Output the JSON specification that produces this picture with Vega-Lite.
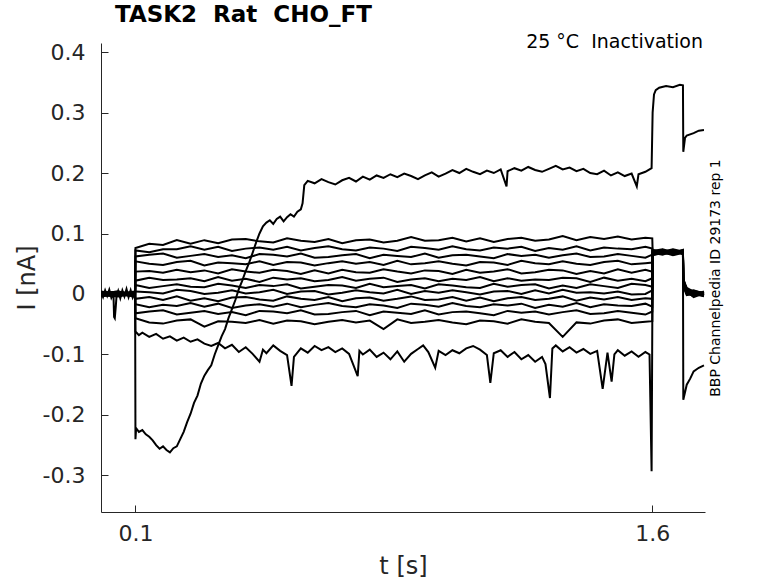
{
  "$schema": "https://vega.github.io/schema/vega-lite/v6.json",
  "width": 604,
  "height": 469,
  "autosize": "none",
  "padding": {"left": 101, "top": 43, "right": 73, "bottom": 71},
  "config": {
    "font": "DejaVu Sans",
    "view": {"stroke": null},
    "axis": {
      "grid": false,
      "domainColor": "#262626",
      "tickColor": "#262626",
      "labelColor": "#262626",
      "titleColor": "#262626",
      "labelFontSize": 22,
      "titleFontSize": 24,
      "titleFontWeight": "normal",
      "tickSize": -7
    }
  },
  "title": {
    "text": "TASK2 \u00a0Rat \u00a0CHO_FT",
    "anchor": "start",
    "frame": "group",
    "fontSize": 23,
    "fontWeight": "bold",
    "color": "black",
    "baseline": "alphabetic",
    "dx": 14,
    "offset": -12
  },
  "datasets": {
    "traces": [
      {"s":0,"t":0,"i":0.004},{"s":0,"t":0.006,"i":-0.005},{"s":0,"t":0.012,"i":0.006},{"s":0,"t":0.018,"i":-0.003},{"s":0,"t":0.024,"i":0.007},{"s":0,"t":0.03,"i":-0.006},{"s":0,"t":0.036,"i":0.002},{"s":0,"t":0.038,"i":-0.038},{"s":0,"t":0.04,"i":-0.04},{"s":0,"t":0.043,"i":-0.02},{"s":0,"t":0.045,"i":-0.004},{"s":0,"t":0.05,"i":0.005},{"s":0,"t":0.056,"i":-0.007},{"s":0,"t":0.062,"i":0.006},{"s":0,"t":0.068,"i":-0.004},{"s":0,"t":0.074,"i":0.008},{"s":0,"t":0.08,"i":-0.005},{"s":0,"t":0.086,"i":0.006},{"s":0,"t":0.092,"i":-0.006},{"s":0,"t":0.099,"i":0.003},

      {"s":1,"t":0,"i":0.003},{"s":1,"t":0.05,"i":-0.002},{"s":1,"t":0.099,"i":0.001},
      {"s":1,"t":0.1,"i":0.076},{"s":1,"t":0.14,"i":0.083},{"s":1,"t":0.18,"i":0.081},{"s":1,"t":0.22,"i":0.089},{"s":1,"t":0.26,"i":0.083},{"s":1,"t":0.3,"i":0.089},{"s":1,"t":0.34,"i":0.084},{"s":1,"t":0.38,"i":0.09},{"s":1,"t":0.42,"i":0.091},{"s":1,"t":0.46,"i":0.087},{"s":1,"t":0.5,"i":0.085},{"s":1,"t":0.54,"i":0.092},{"s":1,"t":0.58,"i":0.088},{"s":1,"t":0.62,"i":0.086},{"s":1,"t":0.66,"i":0.091},{"s":1,"t":0.7,"i":0.084},{"s":1,"t":0.74,"i":0.089},{"s":1,"t":0.78,"i":0.09},{"s":1,"t":0.82,"i":0.085},{"s":1,"t":0.86,"i":0.088},{"s":1,"t":0.9,"i":0.094},{"s":1,"t":0.94,"i":0.088},{"s":1,"t":0.98,"i":0.089},{"s":1,"t":1.02,"i":0.093},{"s":1,"t":1.06,"i":0.087},{"s":1,"t":1.1,"i":0.092},{"s":1,"t":1.14,"i":0.086},{"s":1,"t":1.18,"i":0.091},{"s":1,"t":1.22,"i":0.093},{"s":1,"t":1.26,"i":0.088},{"s":1,"t":1.3,"i":0.09},{"s":1,"t":1.34,"i":0.096},{"s":1,"t":1.38,"i":0.089},{"s":1,"t":1.42,"i":0.094},{"s":1,"t":1.46,"i":0.091},{"s":1,"t":1.5,"i":0.095},{"s":1,"t":1.54,"i":0.09},{"s":1,"t":1.58,"i":0.093},{"s":1,"t":1.6,"i":0.092},
      {"s":1,"t":1.601,"i":0.071},{"s":1,"t":1.63,"i":0.074},{"s":1,"t":1.66,"i":0.069},{"s":1,"t":1.689,"i":0.072},{"s":1,"t":1.69,"i":0.024},{"s":1,"t":1.7,"i":0.01},{"s":1,"t":1.72,"i":0.004},{"s":1,"t":1.75,"i":0.002},

      {"s":2,"t":0,"i":-0.003},{"s":2,"t":0.05,"i":0.002},{"s":2,"t":0.099,"i":-0.001},
      {"s":2,"t":0.1,"i":0.072},{"s":2,"t":0.14,"i":0.069},{"s":2,"t":0.18,"i":0.074},{"s":2,"t":0.22,"i":0.074},{"s":2,"t":0.26,"i":0.079},{"s":2,"t":0.3,"i":0.073},{"s":2,"t":0.34,"i":0.078},{"s":2,"t":0.38,"i":0.071},{"s":2,"t":0.42,"i":0.075},{"s":2,"t":0.46,"i":0.077},{"s":2,"t":0.5,"i":0.073},{"s":2,"t":0.54,"i":0.078},{"s":2,"t":0.58,"i":0.072},{"s":2,"t":0.62,"i":0.076},{"s":2,"t":0.66,"i":0.079},{"s":2,"t":0.7,"i":0.074},{"s":2,"t":0.74,"i":0.072},{"s":2,"t":0.78,"i":0.077},{"s":2,"t":0.82,"i":0.075},{"s":2,"t":0.86,"i":0.071},{"s":2,"t":0.9,"i":0.078},{"s":2,"t":0.94,"i":0.076},{"s":2,"t":0.98,"i":0.073},{"s":2,"t":1.02,"i":0.079},{"s":2,"t":1.06,"i":0.074},{"s":2,"t":1.1,"i":0.072},{"s":2,"t":1.14,"i":0.077},{"s":2,"t":1.18,"i":0.075},{"s":2,"t":1.22,"i":0.078},{"s":2,"t":1.26,"i":0.071},{"s":2,"t":1.3,"i":0.076},{"s":2,"t":1.34,"i":0.073},{"s":2,"t":1.38,"i":0.079},{"s":2,"t":1.42,"i":0.072},{"s":2,"t":1.46,"i":0.077},{"s":2,"t":1.5,"i":0.075},{"s":2,"t":1.54,"i":0.074},{"s":2,"t":1.58,"i":0.078},{"s":2,"t":1.6,"i":0.075},
      {"s":2,"t":1.601,"i":0.068},{"s":2,"t":1.63,"i":0.065},{"s":2,"t":1.66,"i":0.071},{"s":2,"t":1.689,"i":0.067},{"s":2,"t":1.69,"i":0.021},{"s":2,"t":1.7,"i":0.006},{"s":2,"t":1.72,"i":-0.003},{"s":2,"t":1.75,"i":0.001},

      {"s":3,"t":0,"i":0.001},{"s":3,"t":0.05,"i":0.004},{"s":3,"t":0.099,"i":-0.002},
      {"s":3,"t":0.1,"i":0.062},{"s":3,"t":0.14,"i":0.065},{"s":3,"t":0.18,"i":0.067},{"s":3,"t":0.22,"i":0.06},{"s":3,"t":0.26,"i":0.063},{"s":3,"t":0.3,"i":0.066},{"s":3,"t":0.34,"i":0.061},{"s":3,"t":0.38,"i":0.064},{"s":3,"t":0.42,"i":0.059},{"s":3,"t":0.46,"i":0.066},{"s":3,"t":0.5,"i":0.065},{"s":3,"t":0.54,"i":0.062},{"s":3,"t":0.58,"i":0.067},{"s":3,"t":0.62,"i":0.06},{"s":3,"t":0.66,"i":0.061},{"s":3,"t":0.7,"i":0.064},{"s":3,"t":0.74,"i":0.066},{"s":3,"t":0.78,"i":0.059},{"s":3,"t":0.82,"i":0.065},{"s":3,"t":0.86,"i":0.063},{"s":3,"t":0.9,"i":0.061},{"s":3,"t":0.94,"i":0.067},{"s":3,"t":0.98,"i":0.06},{"s":3,"t":1.02,"i":0.064},{"s":3,"t":1.06,"i":0.065},{"s":3,"t":1.1,"i":0.062},{"s":3,"t":1.14,"i":0.059},{"s":3,"t":1.18,"i":0.066},{"s":3,"t":1.22,"i":0.063},{"s":3,"t":1.26,"i":0.065},{"s":3,"t":1.3,"i":0.06},{"s":3,"t":1.34,"i":0.064},{"s":3,"t":1.38,"i":0.067},{"s":3,"t":1.42,"i":0.061},{"s":3,"t":1.46,"i":0.062},{"s":3,"t":1.5,"i":0.066},{"s":3,"t":1.54,"i":0.063},{"s":3,"t":1.58,"i":0.06},{"s":3,"t":1.6,"i":0.065},
      {"s":3,"t":1.601,"i":0.073},{"s":3,"t":1.63,"i":0.07},{"s":3,"t":1.66,"i":0.074},{"s":3,"t":1.689,"i":0.07},{"s":3,"t":1.69,"i":0.018},{"s":3,"t":1.7,"i":0.008},{"s":3,"t":1.72,"i":0.002},{"s":3,"t":1.75,"i":-0.002},

      {"s":4,"t":0,"i":-0.002},{"s":4,"t":0.05,"i":-0.004},{"s":4,"t":0.099,"i":0.002},
      {"s":4,"t":0.1,"i":0.054},{"s":4,"t":0.14,"i":0.05},{"s":4,"t":0.18,"i":0.048},{"s":4,"t":0.22,"i":0.053},{"s":4,"t":0.26,"i":0.055},{"s":4,"t":0.3,"i":0.047},{"s":4,"t":0.34,"i":0.052},{"s":4,"t":0.38,"i":0.051},{"s":4,"t":0.42,"i":0.049},{"s":4,"t":0.46,"i":0.054},{"s":4,"t":0.5,"i":0.048},{"s":4,"t":0.54,"i":0.053},{"s":4,"t":0.58,"i":0.052},{"s":4,"t":0.62,"i":0.047},{"s":4,"t":0.66,"i":0.051},{"s":4,"t":0.7,"i":0.054},{"s":4,"t":0.74,"i":0.05},{"s":4,"t":0.78,"i":0.053},{"s":4,"t":0.82,"i":0.048},{"s":4,"t":0.86,"i":0.055},{"s":4,"t":0.9,"i":0.049},{"s":4,"t":0.94,"i":0.051},{"s":4,"t":0.98,"i":0.054},{"s":4,"t":1.02,"i":0.05},{"s":4,"t":1.06,"i":0.047},{"s":4,"t":1.1,"i":0.053},{"s":4,"t":1.14,"i":0.052},{"s":4,"t":1.18,"i":0.048},{"s":4,"t":1.22,"i":0.055},{"s":4,"t":1.26,"i":0.051},{"s":4,"t":1.3,"i":0.049},{"s":4,"t":1.34,"i":0.054},{"s":4,"t":1.38,"i":0.05},{"s":4,"t":1.42,"i":0.048},{"s":4,"t":1.46,"i":0.053},{"s":4,"t":1.5,"i":0.055},{"s":4,"t":1.54,"i":0.049},{"s":4,"t":1.58,"i":0.051},{"s":4,"t":1.6,"i":0.052},
      {"s":4,"t":1.601,"i":0.066},{"s":4,"t":1.63,"i":0.069},{"s":4,"t":1.66,"i":0.064},{"s":4,"t":1.689,"i":0.068},{"s":4,"t":1.69,"i":0.026},{"s":4,"t":1.7,"i":0.004},{"s":4,"t":1.72,"i":0.006},{"s":4,"t":1.75,"i":0},

      {"s":5,"t":0,"i":0.004},{"s":5,"t":0.05,"i":0},{"s":5,"t":0.099,"i":0.003},
      {"s":5,"t":0.1,"i":0.037},{"s":5,"t":0.14,"i":0.038},{"s":5,"t":0.18,"i":0.035},{"s":5,"t":0.22,"i":0.04},{"s":5,"t":0.26,"i":0.036},{"s":5,"t":0.3,"i":0.039},{"s":5,"t":0.34,"i":0.034},{"s":5,"t":0.38,"i":0.041},{"s":5,"t":0.42,"i":0.037},{"s":5,"t":0.46,"i":0.035},{"s":5,"t":0.5,"i":0.04},{"s":5,"t":0.54,"i":0.038},{"s":5,"t":0.58,"i":0.033},{"s":5,"t":0.62,"i":0.039},{"s":5,"t":0.66,"i":0.034},{"s":5,"t":0.7,"i":0.04},{"s":5,"t":0.74,"i":0.036},{"s":5,"t":0.78,"i":0.035},{"s":5,"t":0.82,"i":0.041},{"s":5,"t":0.86,"i":0.037},{"s":5,"t":0.9,"i":0.034},{"s":5,"t":0.94,"i":0.039},{"s":5,"t":0.98,"i":0.038},{"s":5,"t":1.02,"i":0.033},{"s":5,"t":1.06,"i":0.04},{"s":5,"t":1.1,"i":0.035},{"s":5,"t":1.14,"i":0.037},{"s":5,"t":1.18,"i":0.041},{"s":5,"t":1.22,"i":0.034},{"s":5,"t":1.26,"i":0.036},{"s":5,"t":1.3,"i":0.04},{"s":5,"t":1.34,"i":0.039},{"s":5,"t":1.38,"i":0.033},{"s":5,"t":1.42,"i":0.038},{"s":5,"t":1.46,"i":0.034},{"s":5,"t":1.5,"i":0.041},{"s":5,"t":1.54,"i":0.035},{"s":5,"t":1.58,"i":0.04},{"s":5,"t":1.6,"i":0.037},
      {"s":5,"t":1.601,"i":0.07},{"s":5,"t":1.63,"i":0.067},{"s":5,"t":1.66,"i":0.072},{"s":5,"t":1.689,"i":0.069},{"s":5,"t":1.69,"i":0.015},{"s":5,"t":1.7,"i":0.002},{"s":5,"t":1.72,"i":-0.004},{"s":5,"t":1.75,"i":0.003},

      {"s":6,"t":0,"i":-0.001},{"s":6,"t":0.05,"i":0.003},{"s":6,"t":0.099,"i":-0.003},
      {"s":6,"t":0.1,"i":0.022},{"s":6,"t":0.14,"i":0.027},{"s":6,"t":0.18,"i":0.023},{"s":6,"t":0.22,"i":0.024},{"s":6,"t":0.26,"i":0.026},{"s":6,"t":0.3,"i":0.021},{"s":6,"t":0.34,"i":0.028},{"s":6,"t":0.38,"i":0.022},{"s":6,"t":0.42,"i":0.025},{"s":6,"t":0.46,"i":0.02},{"s":6,"t":0.5,"i":0.027},{"s":6,"t":0.54,"i":0.024},{"s":6,"t":0.58,"i":0.026},{"s":6,"t":0.62,"i":0.021},{"s":6,"t":0.66,"i":0.023},{"s":6,"t":0.7,"i":0.028},{"s":6,"t":0.74,"i":0.022},{"s":6,"t":0.78,"i":0.025},{"s":6,"t":0.82,"i":0.027},{"s":6,"t":0.86,"i":0.02},{"s":6,"t":0.9,"i":0.024},{"s":6,"t":0.94,"i":0.026},{"s":6,"t":0.98,"i":0.021},{"s":6,"t":1.02,"i":0.025},{"s":6,"t":1.06,"i":0.023},{"s":6,"t":1.1,"i":0.028},{"s":6,"t":1.14,"i":0.021},{"s":6,"t":1.18,"i":0.026},{"s":6,"t":1.22,"i":0.022},{"s":6,"t":1.26,"i":0.024},{"s":6,"t":1.3,"i":0.023},{"s":6,"t":1.34,"i":0.027},{"s":6,"t":1.38,"i":0.026},{"s":6,"t":1.42,"i":0.02},{"s":6,"t":1.46,"i":0.027},{"s":6,"t":1.5,"i":0.022},{"s":6,"t":1.54,"i":0.025},{"s":6,"t":1.58,"i":0.021},{"s":6,"t":1.6,"i":0.026},
      {"s":6,"t":1.601,"i":0.064},{"s":6,"t":1.63,"i":0.068},{"s":6,"t":1.66,"i":0.066},{"s":6,"t":1.689,"i":0.07},{"s":6,"t":1.69,"i":0.022},{"s":6,"t":1.7,"i":0.009},{"s":6,"t":1.72,"i":0.001},{"s":6,"t":1.75,"i":-0.003},

      {"s":7,"t":0,"i":0.002},{"s":7,"t":0.05,"i":-0.003},{"s":7,"t":0.099,"i":0},
      {"s":7,"t":0.1,"i":0.015},{"s":7,"t":0.14,"i":0.01},{"s":7,"t":0.18,"i":0.013},{"s":7,"t":0.22,"i":0.016},{"s":7,"t":0.26,"i":0.012},{"s":7,"t":0.3,"i":0.011},{"s":7,"t":0.34,"i":0.017},{"s":7,"t":0.38,"i":0.014},{"s":7,"t":0.42,"i":0.01},{"s":7,"t":0.46,"i":0.015},{"s":7,"t":0.5,"i":0.013},{"s":7,"t":0.54,"i":0.016},{"s":7,"t":0.58,"i":0.009},{"s":7,"t":0.62,"i":0.012},{"s":7,"t":0.66,"i":0.015},{"s":7,"t":0.7,"i":0.014},{"s":7,"t":0.74,"i":0.01},{"s":7,"t":0.78,"i":0.017},{"s":7,"t":0.82,"i":0.011},{"s":7,"t":0.86,"i":0.013},{"s":7,"t":0.9,"i":0.015},{"s":7,"t":0.94,"i":0.009},{"s":7,"t":0.98,"i":0.016},{"s":7,"t":1.02,"i":0.014},{"s":7,"t":1.06,"i":0.011},{"s":7,"t":1.1,"i":0.01},{"s":7,"t":1.14,"i":0.017},{"s":7,"t":1.18,"i":0.012},{"s":7,"t":1.22,"i":0.015},{"s":7,"t":1.26,"i":0.016},{"s":7,"t":1.3,"i":0.009},{"s":7,"t":1.34,"i":0.014},{"s":7,"t":1.38,"i":0.01},{"s":7,"t":1.42,"i":0.016},{"s":7,"t":1.46,"i":0.013},{"s":7,"t":1.5,"i":0.01},{"s":7,"t":1.54,"i":0.017},{"s":7,"t":1.58,"i":0.015},{"s":7,"t":1.6,"i":0.012},
      {"s":7,"t":1.601,"i":0.072},{"s":7,"t":1.63,"i":0.069},{"s":7,"t":1.66,"i":0.073},{"s":7,"t":1.689,"i":0.066},{"s":7,"t":1.69,"i":0.019},{"s":7,"t":1.7,"i":0.003},{"s":7,"t":1.72,"i":0.005},{"s":7,"t":1.75,"i":0.002},

      {"s":8,"t":0,"i":-0.004},{"s":8,"t":0.05,"i":0.001},{"s":8,"t":0.099,"i":0.004},
      {"s":8,"t":0.1,"i":0.004},{"s":8,"t":0.14,"i":0.003},{"s":8,"t":0.18,"i":0.001},{"s":8,"t":0.22,"i":0.007},{"s":8,"t":0.26,"i":0.005},{"s":8,"t":0.3,"i":0},{"s":8,"t":0.34,"i":0.002},{"s":8,"t":0.38,"i":0.006},{"s":8,"t":0.42,"i":0.001},{"s":8,"t":0.46,"i":0.003},{"s":8,"t":0.5,"i":0.007},{"s":8,"t":0.54,"i":0},{"s":8,"t":0.58,"i":0.004},{"s":8,"t":0.62,"i":0.005},{"s":8,"t":0.66,"i":-0.001},{"s":8,"t":0.7,"i":0.002},{"s":8,"t":0.74,"i":0.006},{"s":8,"t":0.78,"i":0.003},{"s":8,"t":0.82,"i":0.001},{"s":8,"t":0.86,"i":0.007},{"s":8,"t":0.9,"i":0},{"s":8,"t":0.94,"i":0.005},{"s":8,"t":0.98,"i":0.002},{"s":8,"t":1.02,"i":0.006},{"s":8,"t":1.06,"i":0.003},{"s":8,"t":1.1,"i":-0.001},{"s":8,"t":1.14,"i":0.004},{"s":8,"t":1.18,"i":0.005},{"s":8,"t":1.22,"i":0},{"s":8,"t":1.26,"i":0.006},{"s":8,"t":1.3,"i":0.001},{"s":8,"t":1.34,"i":0.007},{"s":8,"t":1.38,"i":0.002},{"s":8,"t":1.42,"i":0.003},{"s":8,"t":1.46,"i":0.001},{"s":8,"t":1.5,"i":0.004},{"s":8,"t":1.54,"i":-0.001},{"s":8,"t":1.58,"i":0},{"s":8,"t":1.6,"i":0.006},
      {"s":8,"t":1.601,"i":0.067},{"s":8,"t":1.63,"i":0.071},{"s":8,"t":1.66,"i":0.068},{"s":8,"t":1.689,"i":0.073},{"s":8,"t":1.69,"i":0.012},{"s":8,"t":1.7,"i":-0.002},{"s":8,"t":1.72,"i":0},{"s":8,"t":1.75,"i":-0.004},

      {"s":9,"t":0,"i":0},{"s":9,"t":0.05,"i":-0.001},{"s":9,"t":0.099,"i":-0.004},
      {"s":9,"t":0.1,"i":-0.008},{"s":9,"t":0.14,"i":-0.005},{"s":9,"t":0.18,"i":-0.01},{"s":9,"t":0.22,"i":-0.004},{"s":9,"t":0.26,"i":-0.011},{"s":9,"t":0.3,"i":-0.007},{"s":9,"t":0.34,"i":-0.012},{"s":9,"t":0.38,"i":-0.006},{"s":9,"t":0.42,"i":-0.005},{"s":9,"t":0.46,"i":-0.009},{"s":9,"t":0.5,"i":-0.011},{"s":9,"t":0.54,"i":-0.004},{"s":9,"t":0.58,"i":-0.008},{"s":9,"t":0.62,"i":-0.01},{"s":9,"t":0.66,"i":-0.005},{"s":9,"t":0.7,"i":-0.012},{"s":9,"t":0.74,"i":-0.007},{"s":9,"t":0.78,"i":-0.006},{"s":9,"t":0.82,"i":-0.011},{"s":9,"t":0.86,"i":-0.008},{"s":9,"t":0.9,"i":-0.004},{"s":9,"t":0.94,"i":-0.01},{"s":9,"t":0.98,"i":-0.009},{"s":9,"t":1.02,"i":-0.005},{"s":9,"t":1.06,"i":-0.011},{"s":9,"t":1.1,"i":-0.006},{"s":9,"t":1.14,"i":-0.012},{"s":9,"t":1.18,"i":-0.007},{"s":9,"t":1.22,"i":-0.005},{"s":9,"t":1.26,"i":-0.01},{"s":9,"t":1.3,"i":-0.008},{"s":9,"t":1.34,"i":-0.004},{"s":9,"t":1.38,"i":-0.011},{"s":9,"t":1.42,"i":-0.006},{"s":9,"t":1.46,"i":-0.009},{"s":9,"t":1.5,"i":-0.005},{"s":9,"t":1.54,"i":-0.01},{"s":9,"t":1.58,"i":-0.007},{"s":9,"t":1.6,"i":-0.008},
      {"s":9,"t":1.601,"i":0.069},{"s":9,"t":1.63,"i":0.073},{"s":9,"t":1.66,"i":0.067},{"s":9,"t":1.689,"i":0.071},{"s":9,"t":1.69,"i":0.02},{"s":9,"t":1.7,"i":0.007},{"s":9,"t":1.72,"i":-0.002},{"s":9,"t":1.75,"i":0.004},

      {"s":10,"t":0,"i":0.003},{"s":10,"t":0.05,"i":0.002},{"s":10,"t":0.099,"i":0.001},
      {"s":10,"t":0.1,"i":-0.017},{"s":10,"t":0.14,"i":-0.022},{"s":10,"t":0.18,"i":-0.018},{"s":10,"t":0.22,"i":-0.02},{"s":10,"t":0.26,"i":-0.015},{"s":10,"t":0.3,"i":-0.021},{"s":10,"t":0.34,"i":-0.016},{"s":10,"t":0.38,"i":-0.023},{"s":10,"t":0.42,"i":-0.019},{"s":10,"t":0.46,"i":-0.017},{"s":10,"t":0.5,"i":-0.021},{"s":10,"t":0.54,"i":-0.016},{"s":10,"t":0.58,"i":-0.022},{"s":10,"t":0.62,"i":-0.018},{"s":10,"t":0.66,"i":-0.015},{"s":10,"t":0.7,"i":-0.02},{"s":10,"t":0.74,"i":-0.022},{"s":10,"t":0.78,"i":-0.017},{"s":10,"t":0.82,"i":-0.019},{"s":10,"t":0.86,"i":-0.023},{"s":10,"t":0.9,"i":-0.016},{"s":10,"t":0.94,"i":-0.018},{"s":10,"t":0.98,"i":-0.021},{"s":10,"t":1.02,"i":-0.015},{"s":10,"t":1.06,"i":-0.02},{"s":10,"t":1.1,"i":-0.022},{"s":10,"t":1.14,"i":-0.017},{"s":10,"t":1.18,"i":-0.019},{"s":10,"t":1.22,"i":-0.016},{"s":10,"t":1.26,"i":-0.023},{"s":10,"t":1.3,"i":-0.018},{"s":10,"t":1.34,"i":-0.021},{"s":10,"t":1.38,"i":-0.015},{"s":10,"t":1.42,"i":-0.022},{"s":10,"t":1.46,"i":-0.017},{"s":10,"t":1.5,"i":-0.019},{"s":10,"t":1.54,"i":-0.02},{"s":10,"t":1.58,"i":-0.016},{"s":10,"t":1.6,"i":-0.021},
      {"s":10,"t":1.601,"i":0.065},{"s":10,"t":1.63,"i":0.068},{"s":10,"t":1.66,"i":0.07},{"s":10,"t":1.689,"i":0.066},{"s":10,"t":1.69,"i":0.016},{"s":10,"t":1.7,"i":0},{"s":10,"t":1.72,"i":0.003},{"s":10,"t":1.75,"i":-0.001},

      {"s":11,"t":0,"i":-0.002},{"s":11,"t":0.05,"i":-0.003},{"s":11,"t":0.099,"i":0.002},
      {"s":11,"t":0.1,"i":-0.032},{"s":11,"t":0.14,"i":-0.029},{"s":11,"t":0.18,"i":-0.027},{"s":11,"t":0.22,"i":-0.034},{"s":11,"t":0.26,"i":-0.031},{"s":11,"t":0.3,"i":-0.028},{"s":11,"t":0.34,"i":-0.033},{"s":11,"t":0.38,"i":-0.03},{"s":11,"t":0.42,"i":-0.035},{"s":11,"t":0.46,"i":-0.028},{"s":11,"t":0.5,"i":-0.029},{"s":11,"t":0.54,"i":-0.032},{"s":11,"t":0.58,"i":-0.027},{"s":11,"t":0.62,"i":-0.034},{"s":11,"t":0.66,"i":-0.033},{"s":11,"t":0.7,"i":-0.03},{"s":11,"t":0.74,"i":-0.028},{"s":11,"t":0.78,"i":-0.035},{"s":11,"t":0.82,"i":-0.029},{"s":11,"t":0.86,"i":-0.031},{"s":11,"t":0.9,"i":-0.033},{"s":11,"t":0.94,"i":-0.027},{"s":11,"t":0.98,"i":-0.034},{"s":11,"t":1.02,"i":-0.03},{"s":11,"t":1.06,"i":-0.029},{"s":11,"t":1.1,"i":-0.032},{"s":11,"t":1.14,"i":-0.035},{"s":11,"t":1.18,"i":-0.028},{"s":11,"t":1.22,"i":-0.031},{"s":11,"t":1.26,"i":-0.029},{"s":11,"t":1.3,"i":-0.034},{"s":11,"t":1.34,"i":-0.03},{"s":11,"t":1.38,"i":-0.027},{"s":11,"t":1.42,"i":-0.033},{"s":11,"t":1.46,"i":-0.032},{"s":11,"t":1.5,"i":-0.028},{"s":11,"t":1.54,"i":-0.031},{"s":11,"t":1.58,"i":-0.034},{"s":11,"t":1.6,"i":-0.029},
      {"s":11,"t":1.601,"i":0.071},{"s":11,"t":1.63,"i":0.066},{"s":11,"t":1.66,"i":0.069},{"s":11,"t":1.689,"i":0.072},{"s":11,"t":1.69,"i":0.023},{"s":11,"t":1.7,"i":0.005},{"s":11,"t":1.72,"i":-0.005},{"s":11,"t":1.75,"i":0.001},

      {"s":12,"t":0,"i":0.001},{"s":12,"t":0.05,"i":0.004},{"s":12,"t":0.099,"i":-0.001},
      {"s":12,"t":0.1,"i":-0.04},{"s":12,"t":0.14,"i":-0.047},{"s":12,"t":0.18,"i":-0.049},{"s":12,"t":0.22,"i":-0.044},{"s":12,"t":0.26,"i":-0.042},{"s":12,"t":0.3,"i":-0.054},{"s":12,"t":0.34,"i":-0.045},{"s":12,"t":0.38,"i":-0.046},{"s":12,"t":0.42,"i":-0.048},{"s":12,"t":0.46,"i":-0.043},{"s":12,"t":0.5,"i":-0.049},{"s":12,"t":0.54,"i":-0.044},{"s":12,"t":0.58,"i":-0.045},{"s":12,"t":0.62,"i":-0.05},{"s":12,"t":0.66,"i":-0.046},{"s":12,"t":0.7,"i":-0.043},{"s":12,"t":0.74,"i":-0.047},{"s":12,"t":0.78,"i":-0.044},{"s":12,"t":0.82,"i":-0.058},{"s":12,"t":0.86,"i":-0.042},{"s":12,"t":0.9,"i":-0.048},{"s":12,"t":0.94,"i":-0.046},{"s":12,"t":0.98,"i":-0.043},{"s":12,"t":1.02,"i":-0.047},{"s":12,"t":1.06,"i":-0.05},{"s":12,"t":1.1,"i":-0.044},{"s":12,"t":1.14,"i":-0.045},{"s":12,"t":1.18,"i":-0.049},{"s":12,"t":1.22,"i":-0.042},{"s":12,"t":1.26,"i":-0.046},{"s":12,"t":1.3,"i":-0.048},{"s":12,"t":1.34,"i":-0.071},{"s":12,"t":1.38,"i":-0.047},{"s":12,"t":1.42,"i":-0.049},{"s":12,"t":1.46,"i":-0.044},{"s":12,"t":1.5,"i":-0.042},{"s":12,"t":1.54,"i":-0.048},{"s":12,"t":1.58,"i":-0.046},{"s":12,"t":1.6,"i":-0.045},
      {"s":12,"t":1.601,"i":0.068},{"s":12,"t":1.63,"i":0.072},{"s":12,"t":1.66,"i":0.065},{"s":12,"t":1.689,"i":0.069},{"s":12,"t":1.69,"i":0.017},{"s":12,"t":1.7,"i":0.001},{"s":12,"t":1.72,"i":0.004},{"s":12,"t":1.75,"i":-0.002},

      {"s":13,"t":0,"i":0.002},{"s":13,"t":0.05,"i":-0.002},{"s":13,"t":0.099,"i":0},
      {"s":13,"t":0.1,"i":-0.062},{"s":13,"t":0.11,"i":-0.068},{"s":13,"t":0.12,"i":-0.064},{"s":13,"t":0.14,"i":-0.071},{"s":13,"t":0.16,"i":-0.066},{"s":13,"t":0.18,"i":-0.074},{"s":13,"t":0.2,"i":-0.07},{"s":13,"t":0.22,"i":-0.077},{"s":13,"t":0.24,"i":-0.072},{"s":13,"t":0.26,"i":-0.079},{"s":13,"t":0.28,"i":-0.075},{"s":13,"t":0.3,"i":-0.082},{"s":13,"t":0.32,"i":-0.086},{"s":13,"t":0.34,"i":-0.081},{"s":13,"t":0.36,"i":-0.09},{"s":13,"t":0.38,"i":-0.084},{"s":13,"t":0.4,"i":-0.096},{"s":13,"t":0.42,"i":-0.088},{"s":13,"t":0.44,"i":-0.099},{"s":13,"t":0.46,"i":-0.112},{"s":13,"t":0.47,"i":-0.092},{"s":13,"t":0.48,"i":-0.098},{"s":13,"t":0.5,"i":-0.085},{"s":13,"t":0.52,"i":-0.094},{"s":13,"t":0.54,"i":-0.101},{"s":13,"t":0.553,"i":-0.152},{"s":13,"t":0.56,"i":-0.104},{"s":13,"t":0.58,"i":-0.09},{"s":13,"t":0.6,"i":-0.097},{"s":13,"t":0.62,"i":-0.086},{"s":13,"t":0.64,"i":-0.093},{"s":13,"t":0.66,"i":-0.088},{"s":13,"t":0.68,"i":-0.096},{"s":13,"t":0.7,"i":-0.09},{"s":13,"t":0.72,"i":-0.099},{"s":13,"t":0.745,"i":-0.136},{"s":13,"t":0.75,"i":-0.094},{"s":13,"t":0.76,"i":-0.1},{"s":13,"t":0.78,"i":-0.092},{"s":13,"t":0.8,"i":-0.104},{"s":13,"t":0.82,"i":-0.097},{"s":13,"t":0.84,"i":-0.108},{"s":13,"t":0.86,"i":-0.095},{"s":13,"t":0.88,"i":-0.112},{"s":13,"t":0.9,"i":-0.099},{"s":13,"t":0.92,"i":-0.091},{"s":13,"t":0.935,"i":-0.085},{"s":13,"t":0.95,"i":-0.096},{"s":13,"t":0.97,"i":-0.122},{"s":13,"t":0.98,"i":-0.094},{"s":13,"t":1,"i":-0.101},{"s":13,"t":1.02,"i":-0.093},{"s":13,"t":1.04,"i":-0.098},{"s":13,"t":1.06,"i":-0.09},{"s":13,"t":1.08,"i":-0.086},{"s":13,"t":1.1,"i":-0.092},{"s":13,"t":1.12,"i":-0.101},{"s":13,"t":1.13,"i":-0.147},{"s":13,"t":1.14,"i":-0.098},{"s":13,"t":1.16,"i":-0.093},{"s":13,"t":1.18,"i":-0.104},{"s":13,"t":1.2,"i":-0.096},{"s":13,"t":1.22,"i":-0.108},{"s":13,"t":1.24,"i":-0.101},{"s":13,"t":1.26,"i":-0.112},{"s":13,"t":1.28,"i":-0.104},{"s":13,"t":1.29,"i":-0.116},{"s":13,"t":1.303,"i":-0.172},{"s":13,"t":1.31,"i":-0.09},{"s":13,"t":1.32,"i":-0.085},{"s":13,"t":1.34,"i":-0.095},{"s":13,"t":1.36,"i":-0.088},{"s":13,"t":1.38,"i":-0.097},{"s":13,"t":1.4,"i":-0.091},{"s":13,"t":1.42,"i":-0.099},{"s":13,"t":1.44,"i":-0.094},{"s":13,"t":1.456,"i":-0.157},{"s":13,"t":1.47,"i":-0.097},{"s":13,"t":1.482,"i":-0.145},{"s":13,"t":1.49,"i":-0.1},{"s":13,"t":1.5,"i":-0.093},{"s":13,"t":1.52,"i":-0.102},{"s":13,"t":1.54,"i":-0.095},{"s":13,"t":1.56,"i":-0.104},{"s":13,"t":1.58,"i":-0.096},{"s":13,"t":1.592,"i":-0.1},{"s":13,"t":1.598,"i":-0.293},
      {"s":13,"t":1.601,"i":0.066},{"s":13,"t":1.63,"i":0.07},{"s":13,"t":1.66,"i":0.067},{"s":13,"t":1.689,"i":0.069},{"s":13,"t":1.69,"i":-0.175},{"s":13,"t":1.7,"i":-0.15},{"s":13,"t":1.71,"i":-0.14},{"s":13,"t":1.72,"i":-0.128},{"s":13,"t":1.735,"i":-0.122},{"s":13,"t":1.75,"i":-0.118},

      {"s":14,"t":0,"i":-0.001},{"s":14,"t":0.05,"i":0.001},{"s":14,"t":0.099,"i":0.002},
      {"s":14,"t":0.1,"i":-0.24},{"s":14,"t":0.102,"i":-0.222},{"s":14,"t":0.11,"i":-0.228},{"s":14,"t":0.12,"i":-0.225},{"s":14,"t":0.13,"i":-0.232},{"s":14,"t":0.14,"i":-0.236},{"s":14,"t":0.15,"i":-0.242},{"s":14,"t":0.16,"i":-0.25},{"s":14,"t":0.17,"i":-0.256},{"s":14,"t":0.18,"i":-0.252},{"s":14,"t":0.19,"i":-0.258},{"s":14,"t":0.2,"i":-0.262},{"s":14,"t":0.21,"i":-0.255},{"s":14,"t":0.22,"i":-0.252},{"s":14,"t":0.23,"i":-0.24},{"s":14,"t":0.24,"i":-0.228},{"s":14,"t":0.25,"i":-0.212},{"s":14,"t":0.26,"i":-0.198},{"s":14,"t":0.27,"i":-0.18},{"s":14,"t":0.28,"i":-0.168},{"s":14,"t":0.29,"i":-0.148},{"s":14,"t":0.3,"i":-0.135},{"s":14,"t":0.31,"i":-0.126},{"s":14,"t":0.32,"i":-0.118},{"s":14,"t":0.33,"i":-0.1},{"s":14,"t":0.34,"i":-0.085},{"s":14,"t":0.35,"i":-0.07},{"s":14,"t":0.36,"i":-0.058},{"s":14,"t":0.37,"i":-0.04},{"s":14,"t":0.38,"i":-0.025},{"s":14,"t":0.39,"i":-0.01},{"s":14,"t":0.4,"i":0.008},{"s":14,"t":0.41,"i":0.022},{"s":14,"t":0.42,"i":0.038},{"s":14,"t":0.43,"i":0.052},{"s":14,"t":0.44,"i":0.068},{"s":14,"t":0.45,"i":0.085},{"s":14,"t":0.46,"i":0.1},{"s":14,"t":0.47,"i":0.112},{"s":14,"t":0.48,"i":0.118},{"s":14,"t":0.49,"i":0.122},{"s":14,"t":0.5,"i":0.116},{"s":14,"t":0.51,"i":0.124},{"s":14,"t":0.52,"i":0.128},{"s":14,"t":0.53,"i":0.12},{"s":14,"t":0.54,"i":0.127},{"s":14,"t":0.55,"i":0.132},{"s":14,"t":0.56,"i":0.128},{"s":14,"t":0.57,"i":0.136},{"s":14,"t":0.58,"i":0.14},{"s":14,"t":0.585,"i":0.15},{"s":14,"t":0.59,"i":0.18},{"s":14,"t":0.6,"i":0.187},{"s":14,"t":0.62,"i":0.183},{"s":14,"t":0.64,"i":0.19},{"s":14,"t":0.66,"i":0.185},{"s":14,"t":0.68,"i":0.181},{"s":14,"t":0.7,"i":0.188},{"s":14,"t":0.72,"i":0.192},{"s":14,"t":0.74,"i":0.186},{"s":14,"t":0.76,"i":0.194},{"s":14,"t":0.78,"i":0.189},{"s":14,"t":0.8,"i":0.196},{"s":14,"t":0.82,"i":0.192},{"s":14,"t":0.84,"i":0.198},{"s":14,"t":0.86,"i":0.193},{"s":14,"t":0.88,"i":0.199},{"s":14,"t":0.9,"i":0.195},{"s":14,"t":0.92,"i":0.19},{"s":14,"t":0.94,"i":0.196},{"s":14,"t":0.96,"i":0.201},{"s":14,"t":0.98,"i":0.194},{"s":14,"t":1,"i":0.199},{"s":14,"t":1.02,"i":0.205},{"s":14,"t":1.04,"i":0.2},{"s":14,"t":1.06,"i":0.207},{"s":14,"t":1.08,"i":0.202},{"s":14,"t":1.1,"i":0.198},{"s":14,"t":1.12,"i":0.204},{"s":14,"t":1.14,"i":0.2},{"s":14,"t":1.16,"i":0.206},{"s":14,"t":1.177,"i":0.178},{"s":14,"t":1.18,"i":0.203},{"s":14,"t":1.2,"i":0.208},{"s":14,"t":1.22,"i":0.204},{"s":14,"t":1.24,"i":0.21},{"s":14,"t":1.26,"i":0.205},{"s":14,"t":1.28,"i":0.202},{"s":14,"t":1.3,"i":0.207},{"s":14,"t":1.32,"i":0.212},{"s":14,"t":1.34,"i":0.206},{"s":14,"t":1.36,"i":0.209},{"s":14,"t":1.38,"i":0.203},{"s":14,"t":1.4,"i":0.207},{"s":14,"t":1.42,"i":0.2},{"s":14,"t":1.44,"i":0.198},{"s":14,"t":1.46,"i":0.204},{"s":14,"t":1.48,"i":0.196},{"s":14,"t":1.5,"i":0.201},{"s":14,"t":1.52,"i":0.195},{"s":14,"t":1.54,"i":0.199},{"s":14,"t":1.555,"i":0.178},{"s":14,"t":1.56,"i":0.198},{"s":14,"t":1.58,"i":0.202},{"s":14,"t":1.598,"i":0.208},
      {"s":14,"t":1.601,"i":0.3},{"s":14,"t":1.605,"i":0.33},{"s":14,"t":1.61,"i":0.337},{"s":14,"t":1.62,"i":0.341},{"s":14,"t":1.64,"i":0.344},{"s":14,"t":1.66,"i":0.342},{"s":14,"t":1.68,"i":0.346},{"s":14,"t":1.689,"i":0.345},{"s":14,"t":1.69,"i":0.235},{"s":14,"t":1.695,"i":0.258},{"s":14,"t":1.7,"i":0.262},{"s":14,"t":1.72,"i":0.266},{"s":14,"t":1.735,"i":0.27},{"s":14,"t":1.75,"i":0.271}
    ]
  },
  "layer": [
    {
      "data": {"name": "traces"},
      "mark": {"type": "line", "color": "black", "strokeWidth": 2, "clip": true},
      "encoding": {
        "x": {
          "field": "t",
          "type": "quantitative",
          "scale": {"domain": [0, 1.753], "nice": false, "zero": false},
          "axis": {"title": "t [s]", "values": [0.1, 1.6], "format": ".1f", "labelPadding": 18, "titlePadding": 10}
        },
        "y": {
          "field": "i",
          "type": "quantitative",
          "scale": {"domain": [-0.3605, 0.415], "nice": false, "zero": false},
          "axis": {
            "title": "I [nA]",
            "values": [-0.3, -0.2, -0.1, 0, 0.1, 0.2, 0.3, 0.4],
            "labelExpr": "datum.value < -0.01 ? '-' + format(-datum.value, '.1f') : (datum.value > 0.01 ? format(datum.value, '.1f') : '0')",
            "labelPadding": 23,
            "titlePadding": 3
          }
        },
        "detail": {"field": "s", "type": "nominal"}
      }
    },
    {
      "data": {"values": [{"label": "25 °C \u00a0Inactivation"}]},
      "mark": {"type": "text", "align": "right", "baseline": "alphabetic", "fontSize": 19, "dx": -1, "dy": -4, "color": "black"},
      "encoding": {
        "text": {"field": "label", "type": "nominal"},
        "x": {"datum": 1.75},
        "y": {
          "datum": 0.4,
          "axis": {"orient": "right", "title": "BBP Channelpedia ID 29173 rep 1", "titleAngle": 270, "titleFontSize": 14, "titleColor": "black", "titlePadding": 17, "labels": false, "ticks": false, "domain": false}
        }
      }
    }
  ],
  "resolve": {"axis": {"y": "independent"}}
}
